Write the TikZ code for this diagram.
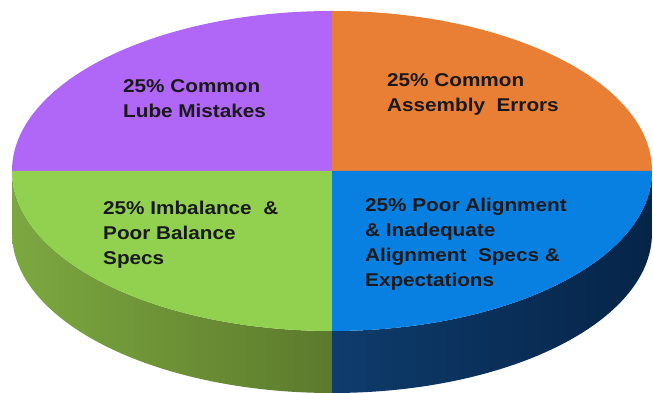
\documentclass[tikz,border=0pt]{standalone}
\usepackage{fontspec}
\setmainfont{Liberation Sans}[FakeStretch=1.12]
\usetikzlibrary{calc}

\definecolor{lubepurple}{RGB}{176,102,246}
\definecolor{assemblyorange}{RGB}{233,126,53}
\definecolor{balancegreen}{RGB}{146,208,80}
\definecolor{alignblue}{RGB}{8,128,226}
\definecolor{greensideL}{RGB}{124,168,64}
\definecolor{greensideR}{RGB}{92,122,44}
\definecolor{bluesideL}{RGB}{14,60,108}
\definecolor{bluesideR}{RGB}{6,36,72}

\begin{document}
\begin{tikzpicture}[x=1pt, y=1pt,
    slice label/.style={font=\bfseries\fontsize{18.5}{25}\selectfont, text=black!90, align=left, anchor=base west, inner sep=0pt}]
    \useasboundingbox (0,0) rectangle (653,393);

    % Side of the pie
    \shade[left color=greensideL, right color=greensideR] (12,222) -- (12,160) arc[start angle=180, end angle=270, x radius=320, y radius=160] -- (332,62) arc[start angle=270, end angle=180, x radius=320, y radius=160] -- cycle;
    \shade[left color=bluesideL, right color=bluesideR] (332,62) -- (332,0) arc[start angle=270, end angle=360, x radius=320, y radius=160] -- (652,222) arc[start angle=0, end angle=-90, x radius=320, y radius=160] -- cycle;

    % Top slices
    \fill[lubepurple] (332,222) -- (12,222) arc[start angle=180, end angle=90, x radius=320, y radius=160] -- cycle;
    \fill[assemblyorange] (332,222) -- (332,382) arc[start angle=90, end angle=0, x radius=320, y radius=160] -- cycle;
    \fill[balancegreen] (332,222) -- (12,222) arc[start angle=180, end angle=270, x radius=320, y radius=160] -- cycle;
    \fill[alignblue] (332,222) -- (332,62) arc[start angle=270, end angle=360, x radius=320, y radius=160] -- cycle;

    % Labels (base = last line)
    \node[slice label] (lube) at (123,275) {25\% Common\\Lube Mistakes};
    \node[slice label] (assembly) at (387,281) {25\% Common\\Assembly~~Errors};
    \node[slice label] (imbalance) at (103,128) {25\% Imbalance~~\&\\Poor Balance\\Specs};
    \node[slice label] (alignment) at (365,106) {25\% Poor Alignment\\\& Inadequate\\Alignment~~Specs \&\\Expectations};
\end{tikzpicture}
\end{document}
